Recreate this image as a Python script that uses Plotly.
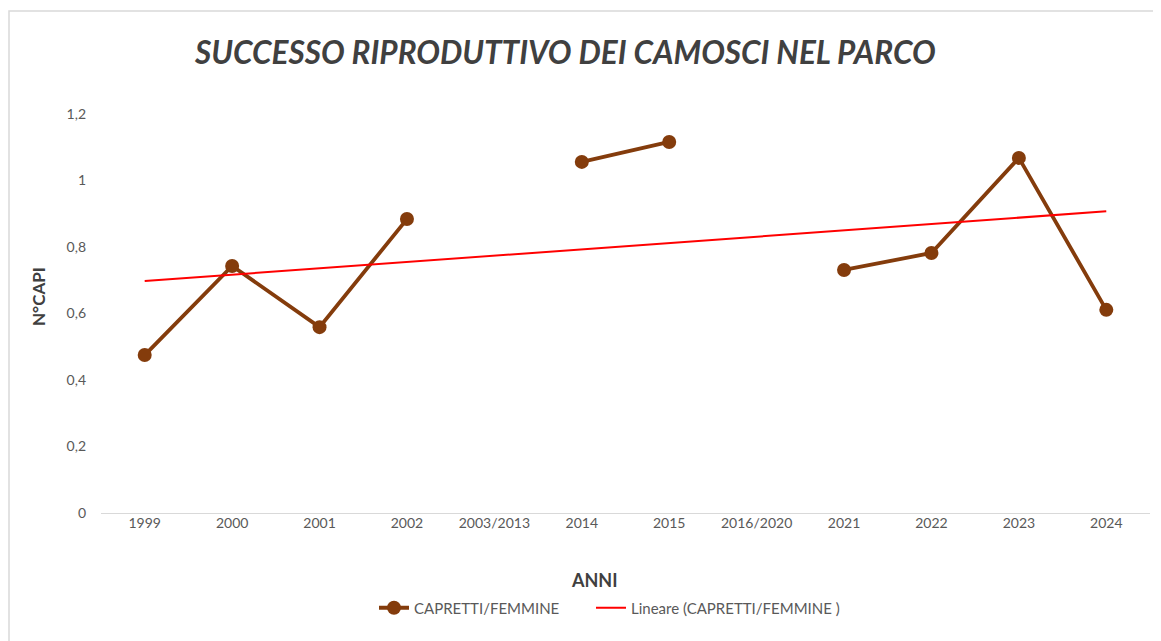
import numpy as np
import plotly.graph_objects as go

categories = ["1999", "2000", "2001", "2002", "2003/2013", "2014", "2015",
              "2016/2020", "2021", "2022", "2023", "2024"]
capretti_femmine = [0.475, 0.743, 0.559, 0.884, None, 1.056, 1.116,
                    None, 0.731, 0.782, 1.068, 0.611]
y_ticks = [0, 0.2, 0.4, 0.6, 0.8, 1.0, 1.2]
y_tick_labels = ["0", "0,2", "0,4", "0,6", "0,8", "1", "1,2"]

# linear trendline (Excel-style, on category index)
idx = np.array([i for i, v in enumerate(capretti_femmine) if v is not None], dtype=float)
vals = np.array([v for v in capretti_femmine if v is not None], dtype=float)
slope, intercept = np.polyfit(idx, vals, 1)
trend = [slope * i + intercept for i in range(len(categories))]

BROWN = "#843C0C"
FONT = "Lato"

# plot area in screen pixels (page body has an 8px margin)
PX0, PX1, PY0, PY1 = 101, 1150, 114, 513
PW, PH = PX1 - PX0, PY1 - PY0


def px(x):
    return (x - PX0) / PW


def py(y):
    return (PY1 - y) / PH


fig = go.Figure()
fig.add_trace(go.Scatter(
    x=categories, y=capretti_femmine, mode="lines+markers",
    name="CAPRETTI/FEMMINE", connectgaps=False,
    line=dict(color=BROWN, width=3.8),
    marker=dict(color=BROWN, size=14),
    legend="legend",
))
fig.add_trace(go.Scatter(
    x=categories, y=trend, mode="lines",
    name="Lineare (CAPRETTI/FEMMINE )",
    line=dict(color="#FF0000", width=2),
    legend="legend2",
))

legend_common = dict(orientation="h", xanchor="left", yanchor="middle",
                     font=dict(family=FONT, size=15, color="#595959"),
                     itemwidth=30, bgcolor="rgba(0,0,0,0)")

fig.update_layout(
    width=1161, height=641,
    margin=dict(l=PX0 - 8, r=1161 - PX1 + 8, t=PY0 - 8, b=641 - PY1 + 8),
    paper_bgcolor="white", plot_bgcolor="white",
    font=dict(family=FONT, color="#595959", size=14),
    showlegend=True,
    legend=dict(x=px(374), y=py(608), **legend_common),
    legend2=dict(x=px(591), y=py(608), **legend_common),
    xaxis=dict(type="category", categoryarray=categories, range=[-0.5, 11.5],
               showgrid=False, showline=False, zeroline=False, ticks="",
               tickfont=dict(family=FONT, size=14, color="#595959")),
    yaxis=dict(range=[0, 1.2], tickvals=y_ticks, ticktext=y_tick_labels,
               showgrid=False, showline=False, zeroline=True,
               zerolinecolor="#D9D9D9", zerolinewidth=1, ticks="",
               ticklabelstandoff=14,
               tickfont=dict(family=FONT, size=14, color="#595959")),
    annotations=[
        dict(text="<b><i>SUCCESSO RIPRODUTTIVO DEI CAMOSCI NEL PARCO</i></b>",
             xref="paper", yref="paper", x=px(565), y=py(52),
             xanchor="center", yanchor="middle", showarrow=False,
             font=dict(family=FONT, size=31.5, color="#404040")),
        dict(text="<b>N°CAPI</b>", textangle=-90,
             xref="paper", yref="paper", x=px(38), y=py(297),
             xanchor="center", yanchor="middle", showarrow=False,
             font=dict(family=FONT, size=17, color="#404040")),
        dict(text="<b>ANNI</b>",
             xref="paper", yref="paper", x=px(594), y=py(580),
             xanchor="center", yanchor="middle", showarrow=False,
             font=dict(family=FONT, size=18, color="#404040")),
    ],
    shapes=[
        dict(type="rect", xref="paper", yref="paper",
             x0=px(9), x1=px(1180), y0=py(660), y1=py(11),
             line=dict(color="#D9D9D9", width=1.5), fillcolor="rgba(0,0,0,0)",
             layer="below"),
    ],
)

fig.write_html("out.html")
